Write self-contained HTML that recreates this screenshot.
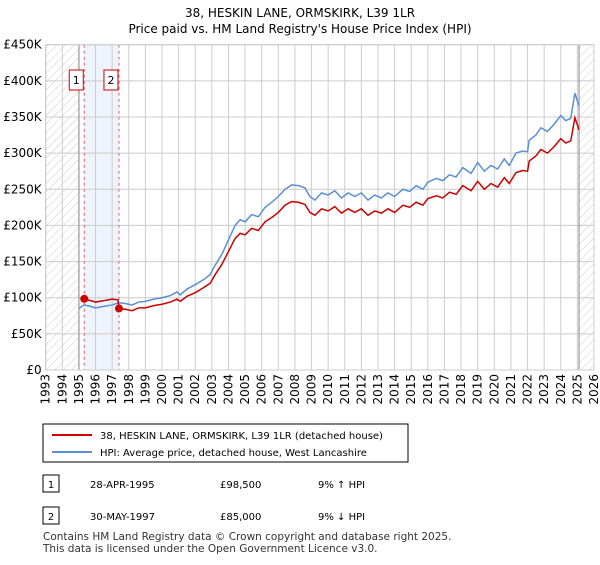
<!DOCTYPE html>
<html><head><meta charset="utf-8"><style>
body{margin:0;background:#fff;font-family:"Liberation Sans","DejaVu Sans",sans-serif;}
</style></head><body>
<svg width="600" height="560" xmlns="http://www.w3.org/2000/svg" font-family="DejaVu Sans, Liberation Sans, sans-serif">
<defs><pattern id="hatch" width="6" height="6" patternUnits="userSpaceOnUse" patternTransform="rotate(45)"><line x1="0" y1="0" x2="0" y2="6" stroke="#ccc" stroke-width="1"/></pattern></defs>
<text x="300" y="17" text-anchor="middle" font-size="12">38, HESKIN LANE, ORMSKIRK, L39 1LR</text>
<text x="300" y="33" text-anchor="middle" font-size="12">Price paid vs. HM Land Registry's House Price Index (HPI)</text>
<g id="plot"></g>
<g>
<rect x="43" y="424" width="365" height="38" fill="#fff" stroke="#000" stroke-width="1"/>
<line x1="52" y1="435" x2="92" y2="435" stroke="#cc0000" stroke-width="2"/>
<text x="100" y="439" font-size="10">38, HESKIN LANE, ORMSKIRK, L39 1LR (detached house)</text>
<line x1="52" y1="452" x2="92" y2="452" stroke="#5b8fd4" stroke-width="2"/>
<text x="100" y="456" font-size="10">HPI: Average price, detached house, West Lancashire</text>
</g>
<g font-size="10">
<rect x="43" y="475" width="16" height="17" fill="#fff" stroke="#000"/><text x="51" y="488" text-anchor="middle">1</text>
<text x="90" y="488">28-APR-1995</text><text x="220" y="488">£98,500</text><text x="318" y="488">9% ↑ HPI</text>
<rect x="43" y="507" width="16" height="17" fill="#fff" stroke="#000"/><text x="51" y="520" text-anchor="middle">2</text>
<text x="90" y="520">30-MAY-1997</text><text x="220" y="520">£85,000</text><text x="318" y="520">9% ↓ HPI</text>
</g>
<text x="43" y="540" font-size="10.5" fill="#333">Contains HM Land Registry data © Crown copyright and database right 2025.</text>
<text x="43" y="552" font-size="10.5" fill="#333">This data is licensed under the Open Government Licence v3.0.</text>
</svg>
<script>
const hpiYears=[1995.0,1995.3,1995.7,1996.0,1996.5,1997.0,1997.4,1997.8,1998.2,1998.6,1999.0,1999.5,2000.0,2000.5,2000.9,2001.1,2001.5,2002.0,2002.5,2002.9,2003.2,2003.6,2004.0,2004.4,2004.7,2005.0,2005.4,2005.8,2006.2,2006.6,2007.0,2007.4,2007.8,2008.2,2008.6,2008.9,2009.2,2009.6,2010.0,2010.4,2010.8,2011.2,2011.6,2012.0,2012.4,2012.8,2013.2,2013.6,2014.0,2014.5,2014.9,2015.3,2015.7,2016.0,2016.5,2016.9,2017.3,2017.7,2018.1,2018.6,2019.0,2019.4,2019.8,2020.2,2020.6,2020.9,2021.3,2021.7,2022.0,2022.1,2022.5,2022.8,2023.2,2023.6,2024.0,2024.3,2024.6,2024.85,2025.0,2025.1];
const hpiValues=[85,90,88,86,88,90,93,92,90,94,95,98,100,103,108,104,112,118,125,132,145,160,180,200,208,205,215,212,225,232,240,250,256,255,252,240,235,245,242,248,238,245,240,245,235,242,238,245,240,250,247,255,250,260,265,262,270,267,280,272,287,275,283,278,292,283,300,303,302,318,325,335,330,340,352,345,348,383,372,365];
const priceYears=[1995.3,1995.7,1996.0,1996.5,1997.0,1997.35,1997.4,1997.8,1998.2,1998.6,1999.0,1999.5,2000.0,2000.5,2000.9,2001.1,2001.5,2002.0,2002.5,2002.9,2003.2,2003.6,2004.0,2004.4,2004.7,2005.0,2005.4,2005.8,2006.2,2006.6,2007.0,2007.4,2007.8,2008.2,2008.6,2008.9,2009.2,2009.6,2010.0,2010.4,2010.8,2011.2,2011.6,2012.0,2012.4,2012.8,2013.2,2013.6,2014.0,2014.5,2014.9,2015.3,2015.7,2016.0,2016.5,2016.9,2017.3,2017.7,2018.1,2018.6,2019.0,2019.4,2019.8,2020.2,2020.6,2020.9,2021.3,2021.7,2022.0,2022.1,2022.5,2022.8,2023.2,2023.6,2024.0,2024.3,2024.6,2024.85,2025.0,2025.1];
const priceValues=[98.5,96,94,96,98,97,85,84,82,86,86,89,91,94,98,95,102,107,114,120,132,146,164,182,189,187,196,193,205,211,218,228,233,232,229,218,214,223,220,226,217,223,218,223,214,220,217,223,218,228,225,232,228,237,241,238,246,243,255,248,261,250,258,253,266,258,273,276,275,289,296,305,300,309,320,314,317,349,339,332];
const saleYears=[1995.32,1997.41];
const saleValues=[98.5,85];
const saleLabels=["1","2"];
const yTicks=[0,50,100,150,200,250,300,350,400,450];
const yTickLabels=["£0","£50K","£100K","£150K","£200K","£250K","£300K","£350K","£400K","£450K"];
const xTicks=[1993,1994,1995,1996,1997,1998,1999,2000,2001,2002,2003,2004,2005,2006,2007,2008,2009,2010,2011,2012,2013,2014,2015,2016,2017,2018,2019,2020,2021,2022,2023,2024,2025,2026];
const dataStart=1995.0, dataEnd=2025.1;

const L=45.7,R=594,T=44.7,B=370;
const X=y=>L+(y-1993)*(R-L)/33;
const Y=v=>B-v*(B-T)/450;
const NS="http://www.w3.org/2000/svg";
const g=document.getElementById('plot');
function mk(t,a){const e=document.createElementNS(NS,t);for(const k in a)e.setAttribute(k,a[k]);g.appendChild(e);return e;}
let e;
e=mk('rect',{x:L,y:T,width:X(dataStart)-L,height:B-T,fill:'url(#hatch)'});


e=mk('rect',{x:X(dataEnd),y:T,width:R-X(dataEnd),height:B-T,fill:'url(#hatch)'});


e=mk('rect',{x:X(saleYears[0]),y:T,width:X(saleYears[1])-X(saleYears[0]),height:B-T,fill:'#eef3fc'});


yTicks.forEach((t,i)=>{
 e=mk('line',{x1:L,x2:R,y1:Y(t),y2:Y(t),stroke:'#ccc','stroke-width':1});
 
 
 e=mk('text',{x:L-4,y:Y(t)+4,'text-anchor':'end','font-size':12});
 e.textContent=yTickLabels[i];
 
 
});
xTicks.forEach(t=>{
 e=mk('line',{x1:X(t),x2:X(t),y1:T,y2:B,stroke:'#ccc','stroke-width':1});
 
 
 e=mk('text',{x:X(t)+4,y:B+4,'text-anchor':'end','font-size':12,transform:`rotate(-90 ${X(t)+4} ${B+4})`});
 e.textContent=t;
 
 
});
[dataStart,dataEnd].forEach(t=>{
 e=mk('line',{x1:X(t),x2:X(t),y1:T,y2:B,stroke:'#888','stroke-width':1});
 
 
});
saleYears.forEach(t=>{
 e=mk('line',{x1:X(t),x2:X(t),y1:T,y2:B,stroke:'#e06060','stroke-width':1,'stroke-dasharray':'3,3'});
 
 
});
e=mk('polyline',{points:hpiYears.map((y,i)=>X(y)+','+Y(hpiValues[i])).join(' '),fill:'none',stroke:'#5b8fd4','stroke-width':1.5});


e=mk('polyline',{points:priceYears.map((y,i)=>X(y)+','+Y(priceValues[i])).join(' '),fill:'none',stroke:'#cc0000','stroke-width':1.5});


saleYears.forEach((t,i)=>{
 e=mk('circle',{cx:X(t),cy:Y(saleValues[i]),r:4,fill:'#cc0000'});
 
 
 e=mk('rect',{x:X(t)-15,y:70,width:14,height:20,fill:'#fff',stroke:'#cc0000'});
 
 
 e=mk('text',{x:X(t)-8,y:84,'text-anchor':'middle','font-size':11});
 e.textContent=saleLabels[i];
 
 
});
e=mk('rect',{x:L,y:T,width:R-L,height:B-T,fill:'none',stroke:'#ccc'});


</script>
</body></html>
